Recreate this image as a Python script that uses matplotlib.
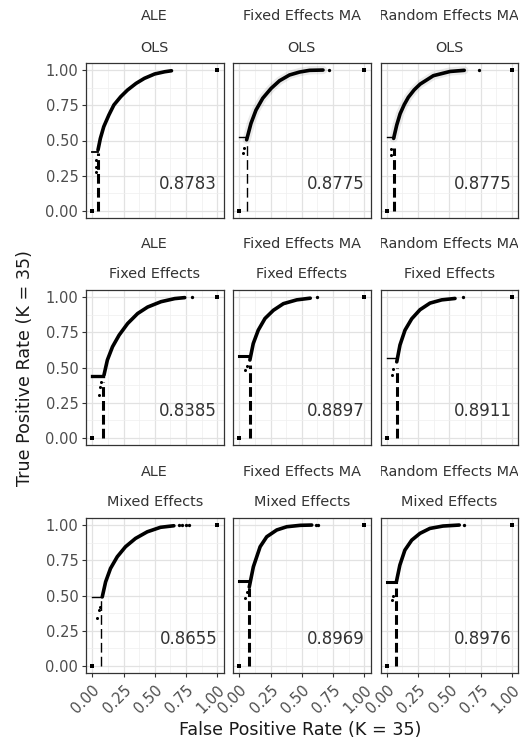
import matplotlib
matplotlib.use("Agg")
import matplotlib.pyplot as plt
from matplotlib.ticker import MultipleLocator

plt.rcParams["font.family"] = ["DejaVu Sans"]
plt.rcParams["lines.scale_dashes"] = False

# ---- facet labels -------------------------------------------------------
methods = ["ALE", "Fixed Effects MA", "Random Effects MA"]
models = ["OLS", "Fixed Effects", "Mixed Effects"]
auc = [[0.8783, 0.8775, 0.8775],
       [0.8385, 0.8897, 0.8911],
       [0.8655, 0.8969, 0.8976]]
ticks = [0.00, 0.25, 0.50, 0.75, 1.00]
tick_labels = ["0.00", "0.25", "0.50", "0.75", "1.00"]

# ---- ROC curves (FPR, TPR) per model x method --------------------------
fpr_ols_ale = [0.046, 0.065, 0.092, 0.133, 0.173, 0.228, 0.282, 0.350, 0.417, 0.499, 0.580, 0.634]
tpr_ols_ale = [0.433, 0.515, 0.598, 0.681, 0.752, 0.811, 0.858, 0.905, 0.941, 0.972, 0.988, 0.995]
fpr_ols_fe = [0.059, 0.094, 0.134, 0.188, 0.255, 0.322, 0.402, 0.483, 0.563, 0.670]
tpr_ols_fe = [0.505, 0.622, 0.716, 0.800, 0.870, 0.924, 0.965, 0.986, 0.998, 1.000]
fpr_ols_re = [0.055, 0.080, 0.107, 0.140, 0.173, 0.220, 0.267, 0.373, 0.507, 0.620]
tpr_ols_re = [0.515, 0.610, 0.690, 0.755, 0.807, 0.860, 0.900, 0.960, 0.990, 0.998]

fpr_fe_ale = [0.094, 0.121, 0.162, 0.215, 0.283, 0.363, 0.443, 0.550, 0.660, 0.740]
tpr_fe_ale = [0.447, 0.553, 0.647, 0.730, 0.812, 0.883, 0.929, 0.967, 0.989, 0.996]
fpr_fe_fe = [0.085, 0.112, 0.152, 0.206, 0.273, 0.353, 0.460, 0.568]
tpr_fe_fe = [0.553, 0.670, 0.765, 0.848, 0.906, 0.953, 0.980, 0.992]
fpr_fe_re = [0.080, 0.106, 0.146, 0.200, 0.266, 0.346, 0.440, 0.546]
tpr_fe_re = [0.540, 0.660, 0.765, 0.846, 0.910, 0.957, 0.980, 0.990]

fpr_me_ale = [0.080, 0.107, 0.146, 0.200, 0.266, 0.346, 0.440, 0.546, 0.653]
tpr_me_ale = [0.490, 0.597, 0.692, 0.775, 0.846, 0.905, 0.952, 0.984, 0.995]
fpr_me_fe = [0.080, 0.113, 0.167, 0.220, 0.300, 0.380, 0.488, 0.580]
tpr_me_fe = [0.560, 0.704, 0.846, 0.917, 0.965, 0.988, 0.998, 1.000]
fpr_me_re = [0.077, 0.105, 0.145, 0.200, 0.266, 0.345, 0.450, 0.580]
tpr_me_re = [0.597, 0.716, 0.822, 0.893, 0.941, 0.976, 0.993, 1.000]

# isolated threshold points near the cut-off
low_fpr = [[[0.030, 0.032, 0.030], [0.027, 0.035], [0.030, 0.035]],
           [[0.053, 0.060, 0.070], [0.046, 0.064], [0.040, 0.050]],
           [[0.040, 0.053, 0.064], [0.046, 0.064], [0.040, 0.053]]]
low_tpr = [[[0.360, 0.310, 0.280], [0.410, 0.450], [0.400, 0.440]],
           [[0.306, 0.365, 0.400], [0.480, 0.510], [0.447, 0.490]],
           [[0.337, 0.396, 0.420], [0.483, 0.527], [0.467, 0.500]]]

# tail points at TPR = 1
tail_fpr = [[[], [0.72], [0.74]],
            [[0.80], [0.62], [0.613]],
            [[0.69, 0.72, 0.75, 0.773], [0.61, 0.63], [0.62]]]

# cut-off: FPR of dashed line, its top, and TPR of the horizontal segment
cut_fpr = [[0.043, 0.059, 0.055], [0.085, 0.085, 0.080], [0.072, 0.075, 0.074]]
cut_top = [[0.410, 0.470, 0.450], [0.400, 0.520, 0.500], [0.470, 0.550, 0.550]]
hline_tpr = [[0.420, 0.527, 0.527], [0.442, 0.580, 0.570], [0.490, 0.600, 0.597]]
hline_end = [[0.045, 0.060, 0.060], [0.088, 0.080, 0.080], [0.072, 0.072, 0.074]]

curves_fpr = [[fpr_ols_ale, fpr_ols_fe, fpr_ols_re],
              [fpr_fe_ale, fpr_fe_fe, fpr_fe_re],
              [fpr_me_ale, fpr_me_fe, fpr_me_re]]
curves_tpr = [[tpr_ols_ale, tpr_ols_fe, tpr_ols_re],
              [tpr_fe_ale, tpr_fe_fe, tpr_fe_re],
              [tpr_me_ale, tpr_me_fe, tpr_me_re]]

# line weights for the cut-off marks
dash_lw = [[2.2, 1.0, 2.2], [2.2, 2.2, 2.2], [1.0, 2.2, 2.2]]
hline_lw = [[1.3, 1.0, 1.0], [2.4, 2.2, 1.0], [1.0, 2.2, 2.2]]
halo = [[False, True, True], [False, False, False], [False, False, False]]

# ---- layout (pixels) ----------------------------------------------------
W, H = 527, 744
fig = plt.figure(figsize=(W / 100, H / 100), dpi=100)
col_left = [86, 233, 380.5]
row_top = [63, 290, 518]
pw, ph = 137.5, 155

def frac_box(left, top, w, h):
    return [left / W, 1 - (top + h) / H, w / W, h / H]

grey_text = "#4D4D4D"
for r in range(3):
    for c in range(3):
        ax = fig.add_axes(frac_box(col_left[c], row_top[r], pw, ph))
        ax.set_xlim(-0.05, 1.05)
        ax.set_ylim(-0.05, 1.05)
        ax.xaxis.set_major_locator(MultipleLocator(0.25))
        ax.yaxis.set_major_locator(MultipleLocator(0.25))
        ax.xaxis.set_minor_locator(MultipleLocator(0.125))
        ax.yaxis.set_minor_locator(MultipleLocator(0.125))
        ax.grid(which="major", color="#E2E2E2", lw=0.9)
        ax.grid(which="minor", color="#EFEFEF", lw=0.5)
        ax.set_axisbelow(True)
        for s in ax.spines.values():
            s.set_color("#333333")
            s.set_linewidth(0.9)
        ax.tick_params(which="minor", length=0)
        ax.tick_params(which="major", length=3, width=0.8, color="#333333",
                       labelsize=10.5, labelcolor=grey_text, pad=2.5)
        ax.set_xticks(ticks)
        ax.set_yticks(ticks)
        if c == 0:
            ax.set_yticklabels(tick_labels)
        else:
            ax.tick_params(axis="y", left=False, labelleft=False)
        if r == 2:
            ax.set_xticklabels(tick_labels, rotation=45, ha="right",
                               va="top", rotation_mode="anchor")
            ax.tick_params(axis="x", pad=4)
        else:
            ax.tick_params(axis="x", bottom=False, labelbottom=False)

        fx, ty = curves_fpr[r][c], curves_tpr[r][c]
        if halo[r][c]:
            ax.plot(fx, ty, color="black", lw=6, alpha=0.08,
                    solid_capstyle="round", zorder=2)
        # dashed cut-off and horizontal segment
        ax.plot([cut_fpr[r][c], cut_fpr[r][c]], [0, cut_top[r][c]],
                color="black", lw=dash_lw[r][c], dashes=(7, 3), zorder=3)
        ax.plot([0, hline_end[r][c]], [hline_tpr[r][c], hline_tpr[r][c]],
                color="black", lw=hline_lw[r][c], zorder=3)
        ax.plot(fx, ty, color="black", lw=2.6, solid_capstyle="round",
                solid_joinstyle="round", zorder=4)
        ax.plot(low_fpr[r][c], low_tpr[r][c], "o", color="black", ms=2.2,
                mew=0, zorder=4)
        ax.plot(tail_fpr[r][c], [1.0] * len(tail_fpr[r][c]), "o",
                color="black", ms=2.4, mew=0, zorder=4)
        ax.plot([0, 1], [0, 1], "s", color="black", ms=2.6, mew=0, zorder=4,
                linestyle="none")
        ax.text(1.0, 0.19, f"{auc[r][c]:.4f}", ha="right", va="center",
                fontsize=12, color="#333333")

        # two-line strip above each panel, clipped to the panel width
        sax = fig.add_axes(frac_box(col_left[c], row_top[r] - 62, pw, 62))
        sax.set_axis_off()
        sax.set_xlim(0, pw)
        sax.set_ylim(62, 0)
        sax.text(pw / 2, 62 - 46.5, methods[c], ha="center", va="center",
                 fontsize=10.4, color="#333333", clip_on=True)
        sax.text(pw / 2, 62 - 15.5, models[r], ha="center", va="center",
                 fontsize=10.4, color="#333333", clip_on=True)

fig.text(25 / W, 1 - 368 / H, "True Positive Rate (K = 35)", rotation=90,
         ha="center", va="center", fontsize=12.6, color="#1A1A1A")
fig.text(300 / W, 1 - 730 / H, "False Positive Rate (K = 35)",
         ha="center", va="center", fontsize=12.6, color="#1A1A1A")

fig.savefig("out.png", dpi=100)
